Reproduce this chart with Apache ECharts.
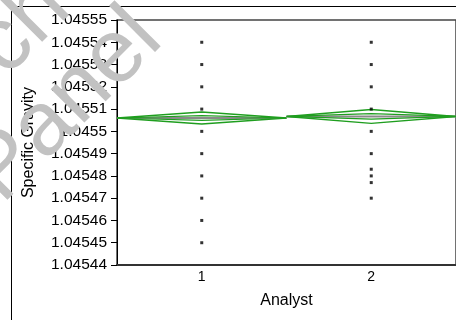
<!DOCTYPE html>
<html>
<head>
<meta charset="utf-8">
<script src="https://cdn.jsdelivr.net/npm/echarts@6/dist/echarts.min.js"></script>
<style>
html, body { margin: 0; padding: 0; background: #fff; }
#main { width: 456px; height: 320px; }
</style>
</head>
<body>
<div id="main"></div>
<script>
// values
var analysts = ['1', '2'];
var analyst1 = [1.04554, 1.04553, 1.04552, 1.04551, 1.0455, 1.04549, 1.04548, 1.04547, 1.04546, 1.04545];
var analyst2 = [1.04554, 1.04553, 1.04552, 1.04551, 1.0455, 1.04549, 1.045483, 1.04548, 1.045477, 1.04547];
var means = [1.045506, 1.0455067];
var ciHalf = [0.0000027, 0.0000031];
var yMin = 1.04544;
var yMax = 1.04555;
var yStep = 0.00001;

var green = '#1f9e1f';
var font = 'Arial';

// means diamond for group i, frac scales its height
function diamond(i, frac) {
  var c = i + 1, m = means[i], h = ciHalf[i] * frac;
  return [[c - 0.5, m], [c, m + h], [c + 0.5, m], [c, m - h], [c - 0.5, m]];
}

function lineSeries(data, color, width) {
  return {
    type: 'line',
    xAxisIndex: 1,
    data: data,
    showSymbol: false,
    silent: true,
    lineStyle: { color: color, width: width },
    z: 2
  };
}

function setOption(chart) {
  var series = [];
  for (var i = 0; i < analysts.length; i++) {
    series.push(lineSeries([[i + 0.5, means[i]], [i + 1.5, means[i]]], '#8a8a8a', 2));
    series.push(lineSeries(diamond(i, 1), green, 1.4));
    series.push(lineSeries(diamond(i, 0.4), green, 1.2));
  }
  series.push({
    type: 'scatter',
    xAxisIndex: 1,
    symbol: 'rect',
    symbolSize: 3,
    itemStyle: { color: '#000' },
    data: analyst1.map(function (v) { return [1, v]; }).concat(analyst2.map(function (v) { return [2, v]; })),
    z: 5
  });

  var option = {
    animation: false,
    grid: {
      left: 117,
      top: 20,
      right: -5,
      bottom: 55,
      show: true,
      borderColor: '#444',
      borderWidth: 1.5
    },
    xAxis: [{
      type: 'category',
      data: analysts,
      boundaryGap: true,
      name: 'Analyst',
      nameLocation: 'middle',
      nameGap: 28,
      nameTextStyle: { color: '#000', fontSize: 16, fontFamily: font },
      axisLine: { lineStyle: { color: '#333', width: 2 } },
      axisTick: { length: 5, lineStyle: { color: '#000' } },
      axisLabel: { color: '#000', fontSize: 14, fontFamily: font, margin: 5 }
    }, {
      type: 'value',
      min: 0.5,
      max: 2.5,
      show: false
    }],
    yAxis: {
      type: 'value',
      min: yMin,
      max: yMax,
      interval: yStep,
      name: 'Specific Gravity',
      nameLocation: 'middle',
      nameGap: 80,
      nameTextStyle: { color: '#000', fontSize: 16, fontFamily: font },
      axisLine: { show: true, lineStyle: { color: '#000', width: 1 } },
      axisTick: { show: true, length: 6, lineStyle: { color: '#000' } },
      splitLine: { show: false },
      axisLabel: {
        color: '#000',
        fontSize: 15.5,
        fontFamily: font,
        margin: 10,
        formatter: function (v) { return String(Number(v.toFixed(5))); }
      }
    },
    graphic: [
      { type: 'line', shape: { x1: 11.5, y1: 6.5, x2: 456, y2: 6.5 }, style: { stroke: '#000', lineWidth: 1 } },
      { type: 'line', shape: { x1: 11.5, y1: 6.5, x2: 11.5, y2: 320 }, style: { stroke: '#000', lineWidth: 1 } },
      // grey watermark lying over the chart
      {
        type: 'text', x: 66, y: 106, rotation: 45 * Math.PI / 180, z: 100,
        style: { text: 'Panel', font: '90px Arial', fill: '#c2c2c2', align: 'center', verticalAlign: 'middle' }
      },
      {
        type: 'text', x: 22, y: 27, rotation: 45 * Math.PI / 180, z: 100,
        style: { text: 'ch', font: '90px Arial', fill: '#c2c2c2', align: 'center', verticalAlign: 'middle' }
      }
    ],
    series: series
  };
  chart.setOption(option);
  return chart;
}

var chart = echarts.init(document.getElementById('main'));
setOption(chart);
</script>
</body>
</html>
